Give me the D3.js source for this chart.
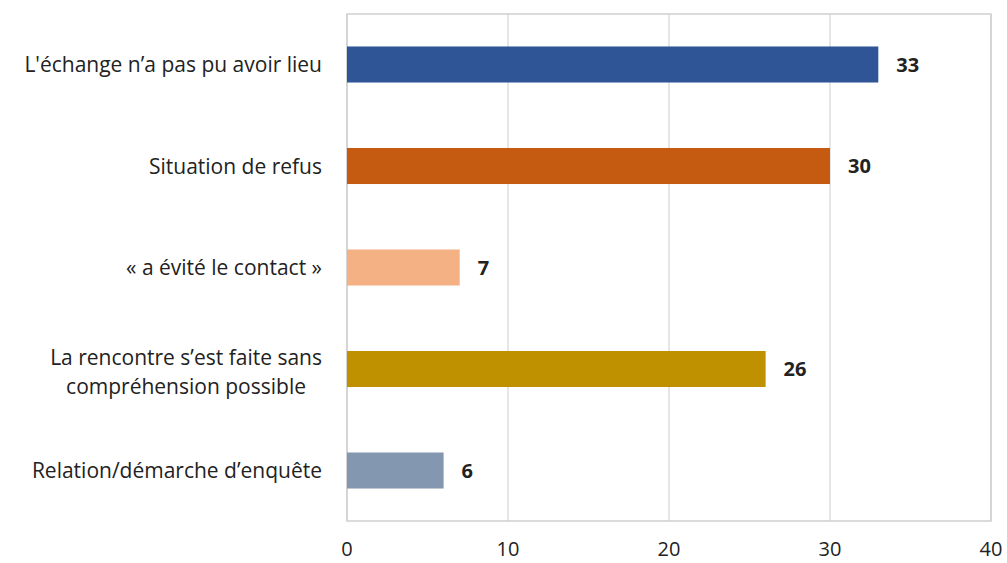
<!DOCTYPE html>
<html>
<head>
<meta charset="utf-8">
<script src="https://cdn.jsdelivr.net/npm/d3@7"></script>
<style>
  body { margin: 0; background: #fff; }
  text { font-family: "Open Sans", "Noto Sans", sans-serif; fill: #222; }
</style>
</head>
<body>
<div id="chart"></div>
<script>
const categories = [
  ["L'échange n’a pas pu avoir lieu"],
  ["Situation de refus"],
  ["« a évité le contact »"],
  ["La rencontre s’est faite sans", "compréhension possible"],
  ["Relation/démarche d’enquête"]
];
const values = [33, 30, 7, 26, 6];
const colors = ["#2F5597", "#C55A11", "#F4B183", "#BF9000", "#8497B0"];
const xTicks = [0, 10, 20, 30, 40];

const width = 1007, height = 563;
const margin = { top: 14, right: 16, bottom: 42, left: 347 };

const svg = d3.select("#chart").append("svg")
  .attr("width", width)
  .attr("height", height);

const x = d3.scaleLinear()
  .domain([0, 40])
  .range([margin.left, width - margin.right]);

const y = d3.scaleBand()
  .domain(d3.range(values.length))
  .range([margin.top, height - margin.bottom])
  .paddingInner(0.645)
  .paddingOuter(0.32);

// gridlines
svg.append("g")
  .selectAll("line")
  .data(xTicks)
  .join("line")
  .attr("x1", d => x(d)).attr("x2", d => x(d))
  .attr("y1", margin.top).attr("y2", height - margin.bottom)
  .attr("stroke", "#d6d6d6")
  .attr("stroke-width", 1.2);

// frame
svg.append("rect")
  .attr("x", margin.left)
  .attr("y", margin.top)
  .attr("width", x(40) - margin.left)
  .attr("height", height - margin.bottom - margin.top)
  .attr("fill", "none")
  .attr("stroke", "#cfcfcf")
  .attr("stroke-width", 1.5);

// bars
svg.append("g")
  .selectAll("rect")
  .data(values)
  .join("rect")
  .attr("x", x(0))
  .attr("y", (d, i) => y(i))
  .attr("width", d => x(d) - x(0))
  .attr("height", y.bandwidth())
  .attr("fill", (d, i) => colors[i]);

// value labels
svg.append("g")
  .selectAll("text")
  .data(values)
  .join("text")
  .attr("x", d => x(d) + 18)
  .attr("y", (d, i) => y(i) + y.bandwidth() / 2)
  .attr("dy", "0.36em")
  .attr("font-size", 20)
  .attr("font-weight", "bold")
  .text(d => d);

// category labels, right aligned block, centered lines
const labelRight = margin.left - 25;
categories.forEach((lines, i) => {
  const cy = y(i) + y.bandwidth() / 2 + (lines.length > 1 ? 3 : 0);
  const g = svg.append("g");
  const texts = lines.map((line, j) => g.append("text")
    .attr("font-size", 21)
    .attr("y", cy + (j - (lines.length - 1) / 2) * 29)
    .attr("dy", "0.36em")
    .text(line));
  const maxW = d3.max(texts, t => t.node().getComputedTextLength());
  texts.forEach(t => t.attr("text-anchor", "middle").attr("x", labelRight - maxW / 2));
});

// x tick labels
svg.append("g")
  .selectAll("text")
  .data(xTicks)
  .join("text")
  .attr("x", d => x(d))
  .attr("y", 549)
  .attr("dy", "0.36em")
  .attr("text-anchor", "middle")
  .attr("font-size", 20)
  .text(d => d);
</script>
</body>
</html>
